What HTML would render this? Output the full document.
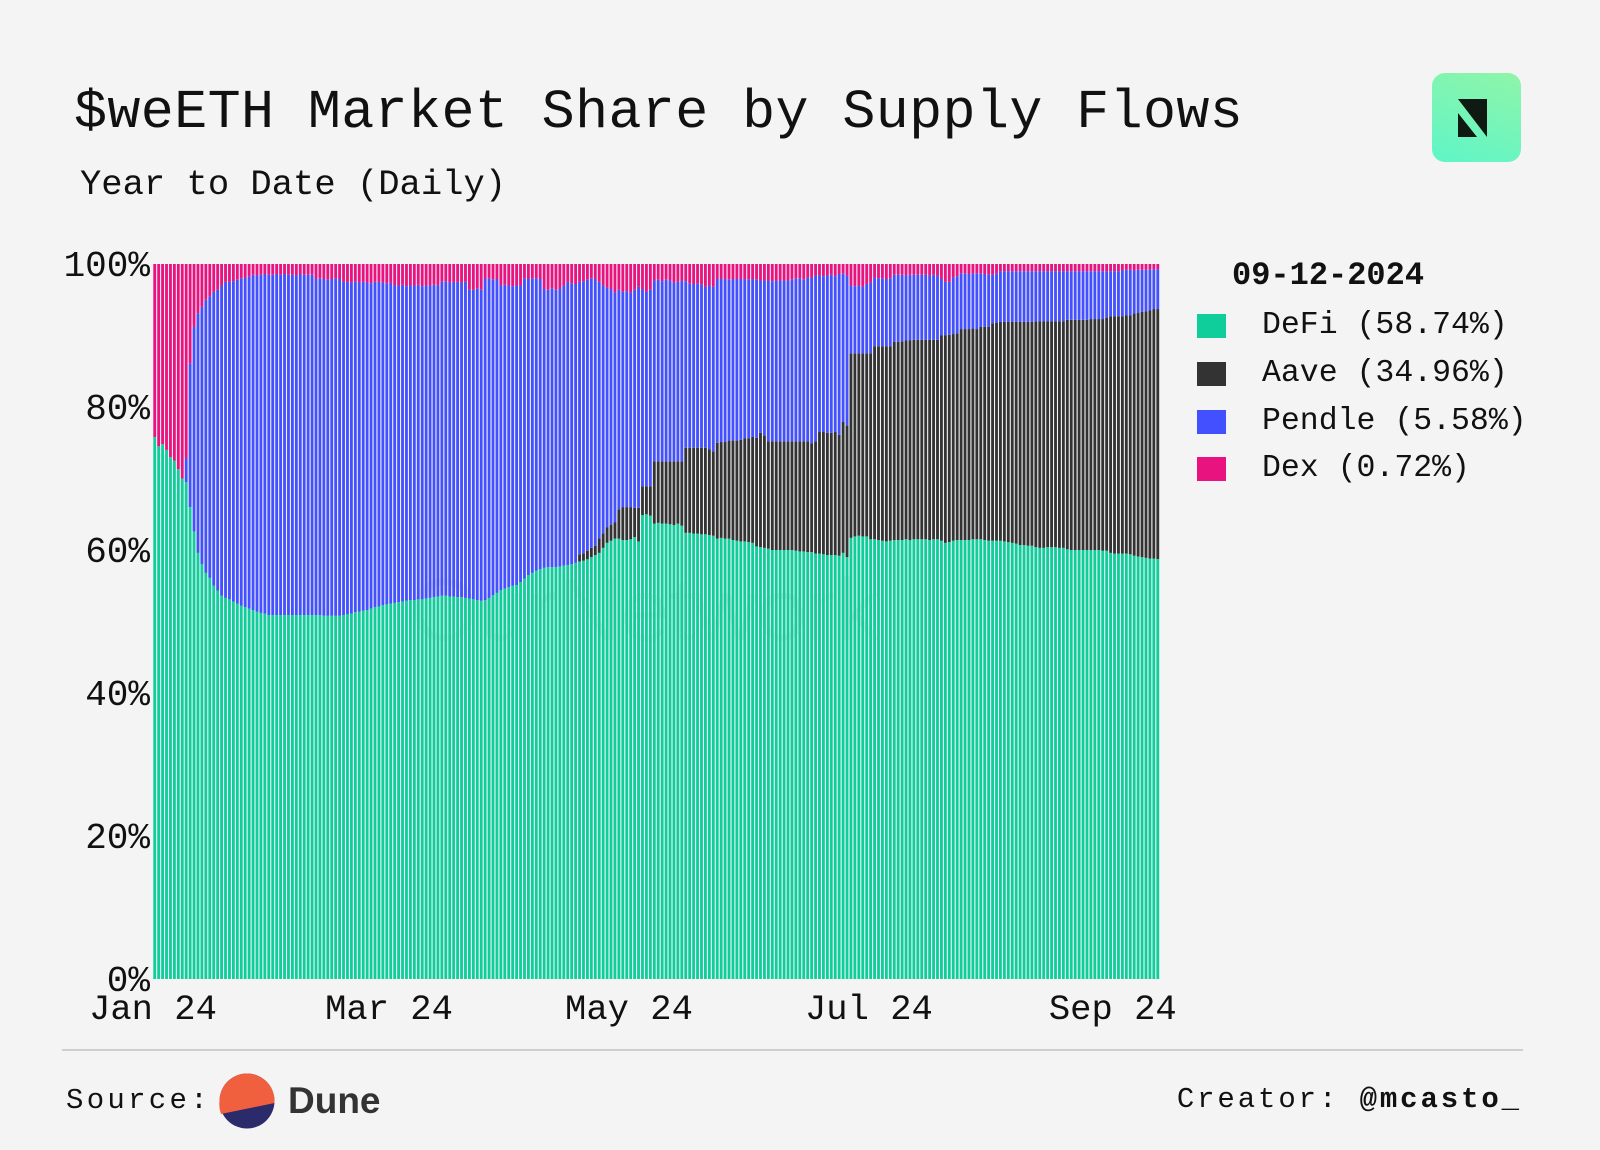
<!DOCTYPE html>
<html><head><meta charset="utf-8">
<style>
html,body{margin:0;padding:0;background:#f4f4f4;}
body{width:1600px;height:1150px;position:relative;overflow:hidden;font-family:"Liberation Mono",monospace;color:#111;}
.abs{position:absolute;white-space:nowrap;}
</style></head>
<body>
<div class="abs" style="left:74px;top:80px;font-size:55px;line-height:66px;letter-spacing:0.4px;">$weETH Market Share by Supply Flows</div>
<div class="abs" style="left:80px;top:164px;font-size:35.5px;line-height:42px;">Year to Date (Daily)</div>
<div class="abs" style="left:1432px;top:73px;width:89px;height:89px;border-radius:13px;background:linear-gradient(200deg,#8ff5a8,#5ff5c8);">
<svg width="89" height="89" viewBox="0 0 89 89"><polygon points="26,26 55,26 55,64" fill="#0e1a12"/><polygon points="26,40 26,64 45,64" fill="#0e1a12"/></svg>
</div>
<svg id="chart" class="abs" style="left:0;top:0" width="1600" height="1150"></svg>
<div class="abs" style="left:1232px;top:256px;font-size:32px;font-weight:bold;line-height:40px;">09-12-2024</div>
<div id="legend"></div>
<div class="abs" style="left:62px;top:1049px;width:1461px;height:2px;background:#cfcfcf;"></div>
<div class="abs" style="left:66px;top:1084px;font-size:29px;letter-spacing:3.3px;line-height:34px;">Source:</div>
<svg class="abs" style="left:219px;top:1073px" width="56" height="56" viewBox="0 0 56 56"><circle cx="28" cy="28" r="27.5" fill="#2b2a6b"/><path d="M0.5,28 A27.5,27.5 0 0 1 55.5,28 L55.5,30 L2,41 A27.5,27.5 0 0 1 0.5,28Z" fill="#f0603f"/></svg>
<div class="abs" style="left:288px;top:1079px;font-family:'Liberation Sans',sans-serif;font-weight:bold;font-size:37px;line-height:44px;color:#333;">Dune</div>
<div class="abs" style="right:78px;top:1083px;font-size:29px;letter-spacing:2.9px;line-height:34px;">Creator: <b>@mcasto_</b></div>
<script>
const categoriesStart = "2024-01-01";
const xTickLabels = ["Jan 24","Mar 24","May 24","Jul 24","Sep 24"];
const xTickDays = [0,60,121,182,244];
const yTicks = [0,20,40,60,80,100];
const seriesNames = ["DeFi","Aave","Pendle","Dex"];
const legendLabels = ["DeFi (58.74%)","Aave (34.96%)","Pendle (5.58%)","Dex (0.72%)"];
const defi = [
75.8,74.5,74.8,74,73,72.5,71.3,70,69.5,66,
62.6,59.6,58,56.8,56.1,55,54.3,53.6,53.3,53.1,
52.8,52.5,52.2,52,51.8,51.6,51.4,51.2,51.1,50.9,
50.9,50.9,50.9,50.9,50.9,50.9,50.9,50.9,50.9,50.9,
50.9,50.9,50.9,50.8,50.8,50.8,50.8,50.8,50.9,51,
51.1,51.3,51.4,51.5,51.6,51.8,52,52.1,52.3,52.4,
52.5,52.6,52.7,52.8,52.9,53,53,53.1,53.1,53.2,
53.3,53.4,53.5,53.6,53.6,53.5,53.5,53.4,53.4,53.3,
53.2,53.1,53,52.9,53,53.3,53.7,54,54.4,54.6,
54.8,55,55.1,55.5,56,56.5,56.8,57.1,57.3,57.5,
57.6,57.6,57.6,57.7,57.8,57.9,58,58.2,58.4,58.5,
58.7,59,59.3,59.6,60.3,61,61.3,61.6,61.6,61.4,
61.4,61.5,61.8,61.2,64.9,65,64.8,63.7,63.8,63.7,
63.7,63.6,63.5,63.7,63.4,62.4,62.4,62.3,62.3,62.2,
62.2,62.1,62,61.6,61.7,61.6,61.6,61.4,61.3,61.2,
61.2,61.1,61,60.5,60.4,60.3,60.2,60,60,60,
60,60,60,59.9,59.8,59.8,59.7,59.7,59.5,59.5,
59.4,59.3,59.3,59.3,59.2,59.6,59,61.7,61.9,62,
61.9,61.9,61.5,61.5,61.4,61.3,61.2,61.3,61.4,61.4,
61.4,61.5,61.4,61.5,61.5,61.5,61.5,61.4,61.5,61.5,
61.3,61.0,61.1,61.3,61.4,61.4,61.4,61.4,61.5,61.5,
61.5,61.4,61.3,61.3,61.3,61.3,61.2,61.1,61,60.9,
60.7,60.7,60.6,60.6,60.4,60.3,60.3,60.4,60.4,60.4,
60.3,60.3,60.1,60,60,60,60,60,60,60,
60,59.9,59.9,59.6,59.5,59.5,59.5,59.5,59.4,59.2,
59.1,59,58.9,58.8,58.8,58.74];
const aave = [
0,0,0,0,0,0,0,0,0,0,0,0,
0,0,0,0,0,0,0,0,0,0,0,0,
0,0,0,0,0,0,0,0,0,0,0,0,
0,0,0,0,0,0,0,0,0,0,0,0,
0,0,0,0,0,0,0,0,0,0,0,0,
0,0,0,0,0,0,0,0,0,0,0,0,
0,0,0,0,0,0,0,0,0,0,0,0,
0,0,0,0,0,0,0,0,0,0,0,0,
0,0,0,0,0,0,0,0,0,0,0,0,
1.0,1.0,1.2,1.3,1.3,
2.0,2.0,2.2,2.2,2.3,
4.1,4.6,4.6,4.5,4.1,4.7,
4.0,3.9,4.1,
8.7,8.6,8.7,8.7,8.8,8.9,8.7,9.0,
11.9,11.9,12.0,12.0,12.1,12.1,12.0,11.8,
13.4,13.4,13.5,13.7,13.9,14.0,14.2,14.4,14.5,14.8,15.2,
16.0,15.7,
15.0,15.2,15.2,15.2,15.2,15.2,15.2,15.3,15.4,15.4,15.5,15.2,15.7,
17.0,17.1,17.1,17.1,17.2,16.9,18.3,18.4,
25.8,25.6,25.5,25.6,25.6,26.0,
27.0,27.1,27.2,27.3,27.2,
27.7,27.7,27.8,27.8,27.9,27.9,27.9,27.9,27.9,28.0,27.9,27.9,
28.7,29.0,29.0,28.9,28.9,
29.5,29.5,29.5,29.5,29.4,
29.7,29.8,29.9,30.4,30.5,
30.6,30.7,30.8,30.9,31.0,31.2,31.2,31.3,31.3,
31.6,31.7,31.7,31.6,31.6,31.6,31.7,31.7,
32.1,32.2,32.2,32.2,32.2,32.2,32.3,32.3,32.3,32.4,32.6,
33.1,33.2,33.2,33.2,33.3,33.4,
33.9,34.1,34.3,34.5,34.7,34.9,34.96];
const dex = [
24.2,25.5,25.2,26,27,27.5,28.7,30,
27.2,13.9,8.8,6.9,6.0,5.0,4.5,3.9,3.6,3.0,2.5,2.5,
2.4,2.2,2.0,1.9,1.8,
1.5,1.6,1.5,1.4,1.5,1.5,1.4,1.5,1.4,1.5,1.5,1.6,1.4,1.5,1.5,1.5,
2.1,2.0,2.1,2.2,2.1,2.0,2.1,
2.5,2.5,2.6,2.4,2.6,2.5,2.6,2.7,2.5,2.5,2.6,2.7,2.6,
3.0,3.0,2.9,3.1,3.0,3.0,2.9,3.1,3.0,3.0,2.9,3.0,
2.5,2.4,2.6,2.5,2.5,2.6,2.5,
3.6,3.6,3.4,3.6,
2.1,2.0,2.2,2.1,
3.0,2.9,3.0,3.1,3.0,3.0,
2.0,2.1,2.0,2.0,2.1,
3.5,3.6,3.4,3.6,3.5,
3.0,2.5,2.7,2.8,2.5,2.4,
2.2,2.0,2.1,2.5,3.0,3.3,
3.5,4.0,3.6,3.9,3.8,4.0,3.6,3.2,
3.5,3.9,3.6,
2.3,2.2,2.4,2.2,2.3,2.6,2.5,2.3,
2.4,2.7,2.8,2.7,2.9,3.2,3.0,3.2,
2.1,2.1,2.1,2.2,2.1,2.1,2.1,2.1,2.2,2.1,2.2,
2.3,2.3,2.3,2.4,2.3,2.3,2.3,2.3,2.2,2.0,2.0,2.2,1.9,1.9,
1.6,1.6,1.7,1.6,1.5,1.7,1.4,1.3,1.6,
3.0,3.1,3.0,3.2,2.8,2.6,
1.9,2.0,2.0,2.1,2.0,
1.5,1.5,1.5,1.6,1.5,1.5,1.5,1.5,1.5,1.6,1.5,1.6,
2.1,2.5,2.5,1.9,1.7,
1.3,1.3,1.4,1.3,1.3,1.3,1.4,1.5,1.5,1.3,
1.0,1.0,1.0,1.0,1.0,1.0,1.0,1.0,1.0,1.0,1.0,1.0,1.0,
1.0,1.0,1.0,1.0,1.0,1.0,1.0,1.0,1.0,1.0,1.0,1.0,
1.0,1.0,1.0,1.0,1.0,1.0,0.9,0.8,0.8,0.9,0.8,0.8,0.8,0.75,0.75,0.72];

const colors = ["#0fce9b","#333333","#4350ff","#e8137f"];
const NS = "http://www.w3.org/2000/svg";
const svg = document.getElementById("chart");
const L = 153, R = 1160, T = 264, B = 979;
const N = defi.length;
const step = (R - L) / N;
const xScale = d => L + d * step;
const yScale = v => B - (v / 100) * (B - T);

function mk(tag, attrs){ const e = document.createElementNS(NS, tag); for (const k in attrs) e.setAttribute(k, attrs[k]); svg.appendChild(e); return e; }

const wm = mk("text",{x:645,y:640,"font-family":"Liberation Sans, sans-serif","font-size":88,fill:"#000","fill-opacity":0.05,"text-anchor":"middle"});
wm.textContent = "OurNetwork";



for (let i = 0; i < N; i++) {
  const d = defi[i] || 0, a = aave[i] || 0, x = dex[i] || 0;
  const p = Math.max(0, 100 - d - a - x);
  const vals = [d, a, p, x];
  let cum = 0;
  for (let s = 0; s < 4; s++) {
    if (vals[s] <= 0) continue;
    const y0 = yScale(cum), y1 = yScale(cum + vals[s]);
    const r = mk("rect",{x:xScale(i)+0.3,y:y1,width:step-1.1,height:y0-y1,fill:colors[s]});
    
    
    cum += vals[s];
  }
}
yTicks.forEach(t => {
  const e = mk("text",{x:L-3,y:yScale(t)+12,"text-anchor":"end","font-family":"Liberation Mono, monospace","font-size":36,fill:"#111"});
  e.textContent = t + "%";
  
  
});
xTickLabels.forEach((lab, k) => {
  const e = mk("text",{x:xScale(xTickDays[k]),y:1019,"text-anchor":"middle","font-family":"Liberation Mono, monospace","font-size":35.5,fill:"#111"});
  e.textContent = lab;
  
  
});
const leg = document.getElementById("legend");
const legY = [326,374,422,469];
legendLabels.forEach((lab, k) => {
  const sw = document.createElement("div");
  sw.className = "abs";
  sw.style.cssText = `left:1197px;top:${legY[k]-12}px;width:29px;height:24px;background:${colors[k]};`;
  
  
  leg.appendChild(sw);
  const t = document.createElement("div");
  t.className = "abs";
  t.style.cssText = `left:1262px;top:${legY[k]-19}px;font-size:31.5px;line-height:38px;`;
  t.textContent = lab;
  
  
  leg.appendChild(t);
});
</script>
</body></html>
